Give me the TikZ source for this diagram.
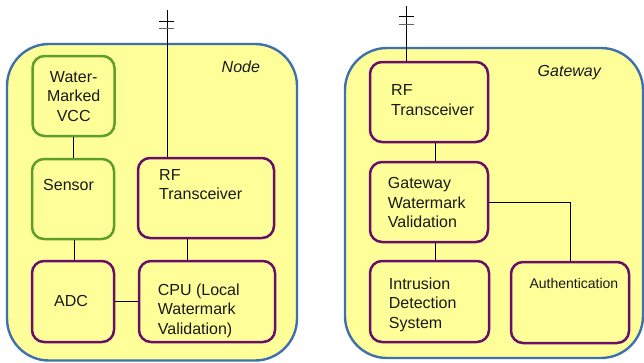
\documentclass[tikz,border=0pt]{standalone}
\usepackage{fontspec}
\setmainfont{Liberation Sans}
\begin{document}
\begin{tikzpicture}[x=1pt,y=-1pt,
  container/.style={draw=contblue, fill=boxfill, line width=2.4pt, rounded corners=42pt},
  greenbox/.style={draw=boxgreen, fill=boxfill, line width=2.5pt, rounded corners=12pt},
  purplebox/.style={draw=boxpurple, fill=boxfill, line width=2.5pt, rounded corners=12pt},
  txt/.style={anchor=base west, inner sep=0pt, font=\fontsize{16}{19.5}\selectfont, text=black!90},
  link/.style={draw=black, line width=0.9pt},
  tick/.style={draw=black, line width=1pt}
]
\definecolor{boxfill}{HTML}{FFFF99}
\definecolor{contblue}{HTML}{3F70AE}
\definecolor{boxgreen}{HTML}{5E9E2C}
\definecolor{boxpurple}{HTML}{6A0E6A}
\useasboundingbox (0,0) rectangle (644,362);

% ---------- sensor node ----------
\draw[container] (7,44) rectangle (297,360.5);
\node[txt, font=\fontsize{16}{19.5}\selectfont\itshape] (nodelbl) at (221.5,72) {Node};

\node[greenbox, minimum width=82pt, minimum height=80pt] (vcc) at (73.5,96) {};
\node[greenbox, minimum width=82pt, minimum height=80pt] (sensor) at (73,199) {};
\node[purplebox, minimum width=82pt, minimum height=81pt] (adc) at (73,301.5) {};
\node[purplebox, minimum width=136pt, minimum height=80pt] (rfa) at (206,198) {};
\node[purplebox, minimum width=136pt, minimum height=81pt] (cpu) at (207,301.5) {};

% multi-line labels: the base anchor sits on the last line
\node[txt, anchor=base, align=center] (vcctxt) at (73.7,121) {Water-\\Marked\\VCC};
\node[txt] (sensortxt) at (43,190) {Sensor};
\node[txt] (adctxt) at (54,306.5) {ADC};
\node[txt, align=left] (rfatxt) at (159,199.5) {RF\\Transceiver};
\node[txt, align=left] (cputxt) at (157.7,334) {CPU (Local\\Watermark\\Validation)};

\draw[link] (vcc.south -| 73,0) -- (sensor.north -| 73,0);
\draw[link] (sensor.south -| 74,0) -- (adc.north -| 74,0);
\draw[link] (rfa.south -| 187,0) -- (cpu.north -| 187,0);
\draw[link] (adc.east) -- (cpu.west);

% antenna of the sensor node
\coordinate (anta) at (167,10);
\draw[link] (anta) -- (rfa.north -| anta);
\draw[tick] (159,21) -- (174,21);
\draw[tick, draw=black!60] (159,28.3) -- (174,28.3);

% ---------- gateway ----------
\draw[container] (345,48) rectangle (643,358);
\node[txt, font=\fontsize{16}{19.5}\selectfont\itshape] (gwlbl) at (537.5,76) {Gateway};

\node[purplebox, minimum width=118pt, minimum height=80pt] (rfb) at (429,102) {};
\node[purplebox, minimum width=118pt, minimum height=80pt] (gwv) at (429,202) {};
\node[purplebox, minimum width=119pt, minimum height=81pt] (ids) at (429.5,301.5) {};
\node[purplebox, minimum width=118pt, minimum height=81pt] (auth) at (570,302.5) {};

\node[txt, align=left] (rfbtxt) at (391,115) {RF\\Transceiver};
\node[txt, align=left] (gwvtxt) at (387.7,227.5) {Gateway\\Watermark\\Validation};
\node[txt, align=left] (idstxt) at (388.7,328) {Intrusion\\Detection\\System};
\node[txt, font=\fontsize{14}{17}\selectfont] (authtxt) at (529.3,288) {Authentication};

\draw[link] (rfb.south -| 435,0) -- (gwv.north -| 435,0);
\draw[link] (gwv.south -| 435,0) -- (ids.north -| 435,0);
\draw[link] (gwv.east) -| (auth.north);

% antenna of the gateway
\coordinate (antb) at (406,6);
\draw[link] (antb) -- (rfb.north -| antb);
\draw[tick] (399,16) -- (414,16);
\draw[tick, draw=black!60] (399,24) -- (414,24);
\end{tikzpicture}
\end{document}
